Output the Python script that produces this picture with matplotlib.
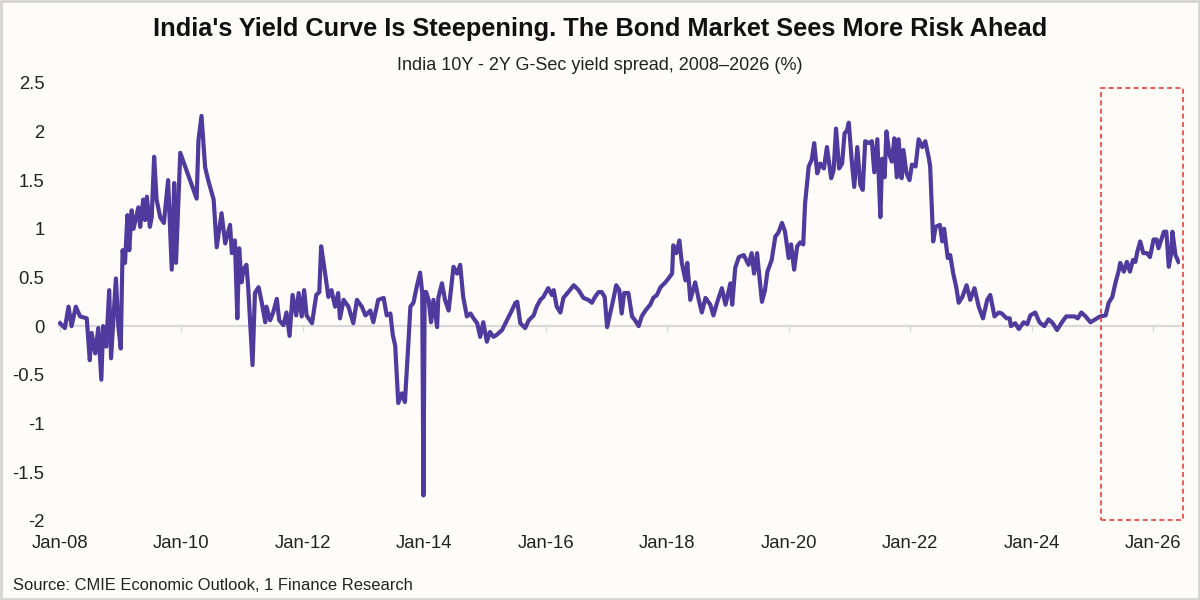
import numpy as np
import matplotlib.pyplot as plt
from matplotlib.patches import Rectangle

plt.rcParams['font.family'] = ['Liberation Sans', 'DejaVu Sans']

# India 10Y - 2Y G-Sec spread (%) (decimal years)
t_2008_09 = [2008.00, 2008.08, 2008.14, 2008.19, 2008.26, 2008.33, 2008.44, 2008.49,
             2008.52, 2008.58, 2008.63, 2008.68, 2008.71, 2008.76, 2008.81, 2008.84,
             2008.92, 2008.96, 2009.00, 2009.03, 2009.07, 2009.11, 2009.14, 2009.18,
             2009.21, 2009.29, 2009.32, 2009.37, 2009.40, 2009.43, 2009.48, 2009.51,
             2009.55, 2009.59, 2009.65, 2009.71, 2009.78, 2009.84, 2009.88, 2009.91,
             2009.98]
v_2008_09 = [0.03, -0.02, 0.20, 0.00, 0.20, 0.10, 0.08, -0.35,
             -0.07, -0.28, -0.02, -0.55, 0.00, -0.21, 0.37, -0.33,
             0.49, 0.00, -0.23, 0.78, 0.65, 1.14, 0.78, 1.19,
             1.00, 1.22, 1.02, 1.30, 1.09, 1.33, 1.02, 1.12,
             1.74, 1.30, 1.12, 1.06, 1.50, 0.58, 1.47, 0.65,
             1.78]

t_2010_14 = [2010.25, 2010.28, 2010.33, 2010.39, 2010.44, 2010.53, 2010.58, 2010.66,
             2010.72, 2010.80, 2010.83, 2010.88, 2010.92, 2010.95, 2010.99, 2011.02,
             2011.07, 2011.10, 2011.17, 2011.21, 2011.27, 2011.32, 2011.38, 2011.40,
             2011.46, 2011.51, 2011.57, 2011.61, 2011.68, 2011.73, 2011.78, 2011.83,
             2011.89, 2011.93, 2011.98, 2012.02, 2012.06, 2012.15, 2012.22, 2012.27,
             2012.30, 2012.35, 2012.42, 2012.47, 2012.53, 2012.58, 2012.61, 2012.67,
             2012.75, 2012.83, 2012.89, 2012.97, 2013.03, 2013.11, 2013.16, 2013.24,
             2013.33, 2013.38, 2013.44, 2013.48, 2013.52, 2013.57, 2013.63, 2013.68,
             2013.74, 2013.77, 2013.82, 2013.88, 2013.93, 2013.965, 2013.985, 2014.005,
             2014.03, 2014.07, 2014.11, 2014.15, 2014.21, 2014.23, 2014.29, 2014.34,
             2014.40, 2014.48, 2014.54]
v_2010_14 = [1.31, 1.91, 2.16, 1.63, 1.50, 1.30, 0.81, 1.16,
             0.85, 1.04, 0.75, 0.88, 0.08, 0.80, 0.45, 0.58,
             0.63, 0.39, -0.40, 0.34, 0.40, 0.25, 0.04, 0.20,
             0.06, 0.14, 0.28, 0.06, 0.01, 0.14, -0.10, 0.32,
             0.11, 0.34, 0.10, 0.37, 0.11, 0.03, 0.32, 0.35,
             0.82, 0.61, 0.30, 0.37, 0.20, 0.34, 0.08, 0.27,
             0.20, 0.03, 0.27, 0.20, 0.11, 0.16, 0.04, 0.27,
             0.29, 0.11, 0.13, -0.09, -0.20, -0.79, -0.69, -0.78,
             -0.14, 0.20, 0.24, 0.42, 0.55, 0.34, -1.74, 0.35,
             0.35, 0.27, 0.04, 0.27, -0.01, 0.29, 0.44, 0.27,
             0.16, 0.61, 0.54]

t_2014_19 = [2014.59, 2014.64, 2014.70, 2014.76, 2014.81, 2014.87, 2014.92, 2014.97,
             2015.03, 2015.08, 2015.14, 2015.19, 2015.28, 2015.36, 2015.44, 2015.50,
             2015.53, 2015.58, 2015.66, 2015.72, 2015.80, 2015.85, 2015.91, 2015.96,
             2016.04, 2016.10, 2016.13, 2016.18, 2016.24, 2016.29, 2016.37, 2016.46,
             2016.54, 2016.62, 2016.70, 2016.76, 2016.81, 2016.87, 2016.92, 2016.97,
             2017.01, 2017.06, 2017.11, 2017.16, 2017.21, 2017.25, 2017.29, 2017.36,
             2017.42, 2017.47, 2017.53, 2017.58, 2017.64, 2017.72, 2017.77, 2017.83,
             2017.89, 2017.97, 2018.02, 2018.08, 2018.10, 2018.15, 2018.20, 2018.24,
             2018.30, 2018.33, 2018.38, 2018.46, 2018.52, 2018.57, 2018.63, 2018.71,
             2018.76, 2018.82, 2018.90, 2018.96, 2019.04, 2019.07, 2019.12, 2019.18,
             2019.26, 2019.34]
v_2014_19 = [0.63, 0.30, 0.10, 0.13, 0.08, 0.03, -0.11, 0.04,
             -0.16, -0.06, -0.11, -0.09, -0.04, 0.06, 0.16, 0.24,
             0.25, 0.03, -0.02, 0.06, 0.11, 0.20, 0.27, 0.30,
             0.39, 0.32, 0.37, 0.20, 0.14, 0.29, 0.35, 0.42,
             0.37, 0.29, 0.27, 0.24, 0.30, 0.35, 0.35, 0.30,
             -0.01, 0.13, 0.27, 0.42, 0.37, 0.13, 0.34, 0.34,
             0.10, 0.06, 0.00, 0.10, 0.16, 0.22, 0.29, 0.32,
             0.40, 0.45, 0.49, 0.54, 0.83, 0.75, 0.88, 0.65,
             0.47, 0.65, 0.27, 0.45, 0.27, 0.14, 0.29, 0.22,
             0.11, 0.24, 0.39, 0.22, 0.44, 0.22, 0.60, 0.71,
             0.73, 0.63]

t_2019_22 = [2019.39, 2019.43, 2019.48, 2019.50, 2019.56, 2019.61, 2019.65, 2019.72,
             2019.78, 2019.83, 2019.89, 2019.94, 2020.00, 2020.04, 2020.09, 2020.14,
             2020.19, 2020.24, 2020.27, 2020.33, 2020.38, 2020.42, 2020.47, 2020.52,
             2020.58, 2020.63, 2020.70, 2020.74, 2020.78, 2020.83, 2020.88, 2020.92,
             2020.96, 2020.99, 2021.04, 2021.08, 2021.13, 2021.18, 2021.22, 2021.26,
             2021.32, 2021.37, 2021.41, 2021.46, 2021.51, 2021.54, 2021.58, 2021.61,
             2021.66, 2021.70, 2021.74, 2021.78, 2021.81, 2021.86, 2021.89, 2021.94,
             2021.99, 2022.03, 2022.09, 2022.14, 2022.20, 2022.25, 2022.31, 2022.33,
             2022.38, 2022.42, 2022.49, 2022.53, 2022.56, 2022.62, 2022.66, 2022.71,
             2022.76, 2022.80]
v_2019_22 = [0.75, 0.54, 0.75, 0.62, 0.25, 0.37, 0.56, 0.68,
             0.92, 0.96, 1.06, 0.97, 0.70, 0.84, 0.58, 0.82,
             0.86, 0.84, 1.26, 1.64, 1.71, 1.88, 1.57, 1.67,
             1.62, 1.84, 1.52, 1.60, 2.03, 1.62, 1.67, 1.98,
             2.01, 2.09, 1.69, 1.43, 1.84, 1.45, 1.40, 1.90,
             1.88, 1.90, 1.58, 1.92, 1.12, 1.72, 1.53, 2.00,
             1.76, 1.69, 1.93, 1.53, 1.92, 1.52, 1.81, 1.57,
             1.50, 1.66, 1.64, 1.92, 1.84, 1.90, 1.72, 1.64,
             0.87, 1.02, 1.04, 0.87, 1.00, 0.70, 0.73, 0.54,
             0.40, 0.24]

t_2022_26 = [2022.86, 2022.93, 2022.99, 2023.06, 2023.13, 2023.20, 2023.27, 2023.32,
             2023.39, 2023.46, 2023.51, 2023.59, 2023.64, 2023.66, 2023.73, 2023.79,
             2023.87, 2023.93, 2023.98, 2024.06, 2024.13, 2024.21, 2024.28, 2024.35,
             2024.42, 2024.50, 2024.57, 2024.64, 2024.71, 2024.76, 2024.82, 2024.89,
             2024.97, 2025.05, 2025.13, 2025.22, 2025.27, 2025.33, 2025.38, 2025.44,
             2025.46, 2025.52, 2025.57, 2025.62, 2025.67, 2025.71, 2025.74, 2025.79,
             2025.84, 2025.90, 2025.95, 2026.01, 2026.06, 2026.09, 2026.18, 2026.22,
             2026.26, 2026.30, 2026.32, 2026.37, 2026.42]
v_2022_26 = [0.30, 0.42, 0.27, 0.39, 0.20, 0.08, 0.27, 0.32,
             0.10, 0.14, 0.13, 0.08, 0.08, 0.00, 0.03, -0.03,
             0.04, 0.02, 0.11, 0.14, 0.04, 0.00, 0.07, 0.03,
             -0.04, 0.04, 0.10, 0.10, 0.10, 0.08, 0.14, 0.10,
             0.04, 0.07, 0.10, 0.11, 0.24, 0.30, 0.44, 0.58,
             0.65, 0.56, 0.66, 0.56, 0.68, 0.66, 0.76, 0.87,
             0.75, 0.75, 0.71, 0.89, 0.89, 0.80, 0.97, 0.97,
             0.61, 0.75, 0.97, 0.73, 0.66]

tick_years = [2008, 2010, 2012, 2014, 2016, 2018, 2020, 2022, 2024, 2026]
tick_labels = ['Jan-08', 'Jan-10', 'Jan-12', 'Jan-14', 'Jan-16',
               'Jan-18', 'Jan-20', 'Jan-22', 'Jan-24', 'Jan-26']
y_ticks = [2.5, 2, 1.5, 1, 0.5, 0, -0.5, -1, -1.5, -2]

# highlighted window (recent steepening)
box_start, box_end = 2025.15, 2026.50
box_top, box_bottom = 2.45, -1.99

years = t_2008_09 + t_2010_14 + t_2014_19 + t_2019_22 + t_2022_26
spread = v_2008_09 + v_2010_14 + v_2014_19 + v_2019_22 + v_2022_26

bg = '#FDFCF8'
fig = plt.figure(figsize=(12, 6), dpi=100, facecolor=bg)
ax = fig.add_axes([0.048, 0.132, 0.9356, 0.73])
ax.set_facecolor(bg)

ax.plot(years, spread, color='#4F3A9E', lw=3.0, solid_joinstyle='round', zorder=3)

ax.set_xlim(2007.96, 2026.45)
ax.set_ylim(-2, 2.5)

# zero line acts as the x axis, with small tick marks
for s in ['top', 'right', 'left']:
    ax.spines[s].set_visible(False)
ax.spines['bottom'].set_position(('data', 0))
ax.spines['bottom'].set_color('#D9D9D9')
ax.spines['bottom'].set_linewidth(1.6)
ax.set_xticks(tick_years)
ax.tick_params(axis='x', direction='out', length=4, width=1, color='#D9D9D9',
               labelbottom=False)

# labels sit at the bottom of the plot
sec = ax.secondary_xaxis('bottom')
sec.spines['bottom'].set_visible(False)
sec.set_xticks(tick_years)
sec.set_xticklabels(tick_labels)
sec.tick_params(length=0, pad=10, labelsize=13.3, labelcolor='#222222')

ax.set_yticks(y_ticks)
ax.set_yticklabels([f'{v:g}' for v in y_ticks])
ax.tick_params(axis='y', length=0, pad=9.5, labelsize=13.3, labelcolor='#222222')

rect = Rectangle((box_start, box_bottom), box_end - box_start, box_top - box_bottom,
                 fill=False, edgecolor='#E8413C', lw=1.2, ls=(0, (3, 2)),
                 clip_on=False, zorder=4)
ax.add_patch(rect)

fig.text(0.5, 0.952, "India's Yield Curve Is Steepening. The Bond Market Sees More Risk Ahead",
         ha='center', va='center', fontsize=18.3, fontweight='bold', color='#111111')
fig.text(0.5, 0.891, 'India 10Y - 2Y G-Sec yield spread, 2008\u20132026 (%)',
         ha='center', va='center', fontsize=13, color='#222222')
fig.text(0.011, 0.024, 'Source: CMIE Economic Outlook, 1 Finance Research',
         ha='left', va='center', fontsize=11.9, color='#222222')

# light frame around the whole picture
fig.patches.append(Rectangle((0.001, 0.002), 0.998, 0.996, transform=fig.transFigure,
                             fill=False, edgecolor='#D4D4D4', lw=2))

fig.savefig('out.png', dpi=100, facecolor=bg)
